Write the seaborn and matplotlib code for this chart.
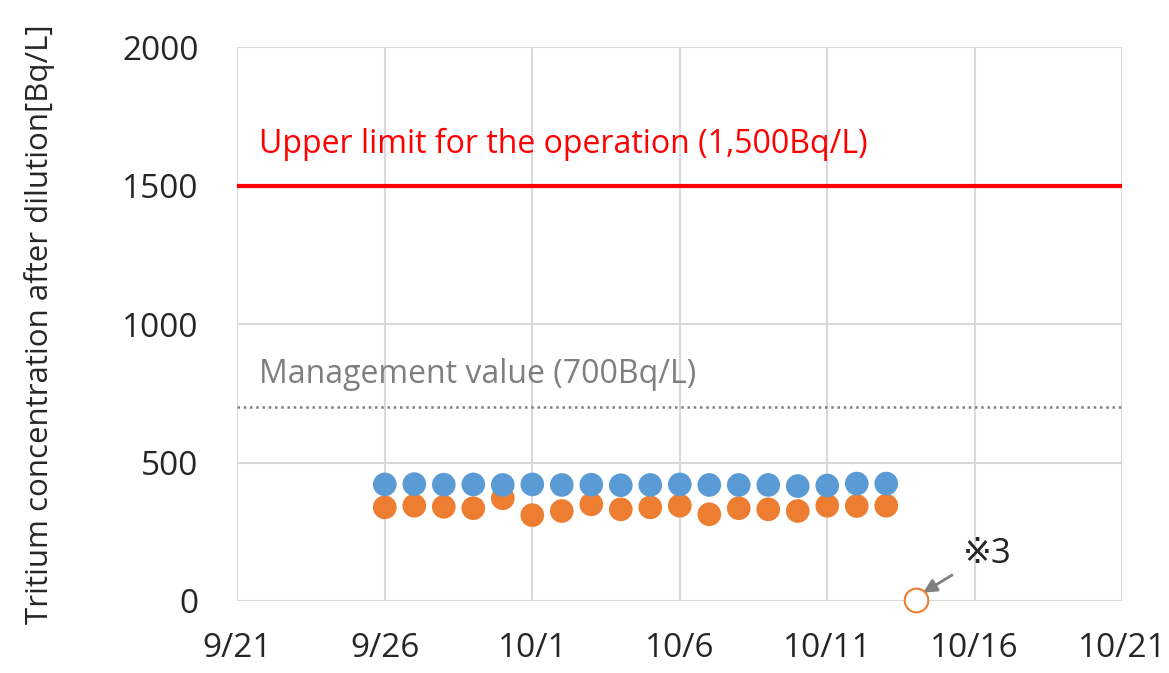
import pandas as pd
import matplotlib.pyplot as plt
import matplotlib.dates as mdates
import seaborn as sns

# Daily values
dates = pd.date_range("2023-09-26", "2023-10-13", freq="D")
blue_vals = [421, 422, 420, 421, 419, 421, 419, 420, 418, 419,
             421, 419, 419, 419, 415, 417, 424, 424]
orange_vals = [338, 344, 340, 335, 371, 310, 325, 349, 331, 338,
               344, 313, 335, 331, 325, 344, 343, 344]
extra_date = [pd.Timestamp("2023-10-14")]
extra_val = [5]

x_ticks = pd.date_range("2023-09-21", "2023-10-21", freq="5D")
y_ticks = [0, 500, 1000, 1500, 2000]

df = pd.DataFrame({"date": dates, "blue": blue_vals, "orange": orange_vals})

sns.set_style("white")
plt.rcParams['font.family'] = ['Open Sans', 'DejaVu Sans', 'Noto Sans CJK JP']

fig, ax = plt.subplots(figsize=(11.69, 6.73), dpi=100)
fig.subplots_adjust(left=0.203, right=0.96, top=0.93, bottom=0.107)

sns.scatterplot(data=df, x="date", y="orange", color="#ED7D31", s=290,
                edgecolor="none", ax=ax, zorder=3)
sns.scatterplot(data=df, x="date", y="blue", color="#5B9BD5", s=290,
                edgecolor="none", ax=ax, zorder=4)
ax.scatter(extra_date, extra_val, s=290, facecolor="white",
           edgecolor="#ED7D31", linewidth=1.5, zorder=5, clip_on=False)

# Limit lines
ax.axhline(1500, color="#FF0000", linewidth=3, zorder=2)
ax.axhline(700, color="#7F7F7F", linewidth=1.8, linestyle=(0, (1, 1.5)), zorder=2)
ax.text(pd.Timestamp("2023-09-21 18:00"), 1650, "Upper limit for the operation (1,500Bq/L)",
        color="#FF0000", fontsize=23, va="center")
ax.text(pd.Timestamp("2023-09-21 18:00"), 818, "Management value (700Bq/L)",
        color="#7F7F7F", fontsize=23, va="center")

ax.annotate("※3", xy=(pd.Timestamp("2023-10-14 06:00"), 30),
            xytext=(pd.Timestamp("2023-10-15 14:00"), 170),
            fontsize=25, va="center", ha="left",
            arrowprops=dict(arrowstyle="-|>", color="#7F7F7F", lw=2,
                            mutation_scale=20, shrinkA=6, shrinkB=0))

ax.set_xlim(x_ticks[0], x_ticks[-1])
ax.set_ylim(0, 2000)
ax.set_xticks(x_ticks)
ax.xaxis.set_major_formatter(mdates.DateFormatter("%-m/%-d"))
ax.set_yticks(y_ticks)
ax.tick_params(axis="both", labelsize=24, length=0)
ax.tick_params(axis="y", pad=28)
ax.tick_params(axis="x", pad=22)
ax.grid(True, color="#D9D9D9", linewidth=1.5, zorder=0)
ax.set_axisbelow(True)
for s in ax.spines.values():
    s.set_visible(False)

ax.set_xlabel("")
ax.set_ylabel("Tritium concentration after dilution[Bq/L]", fontsize=22.5, labelpad=48)

plt.savefig("out.png", dpi=100)
